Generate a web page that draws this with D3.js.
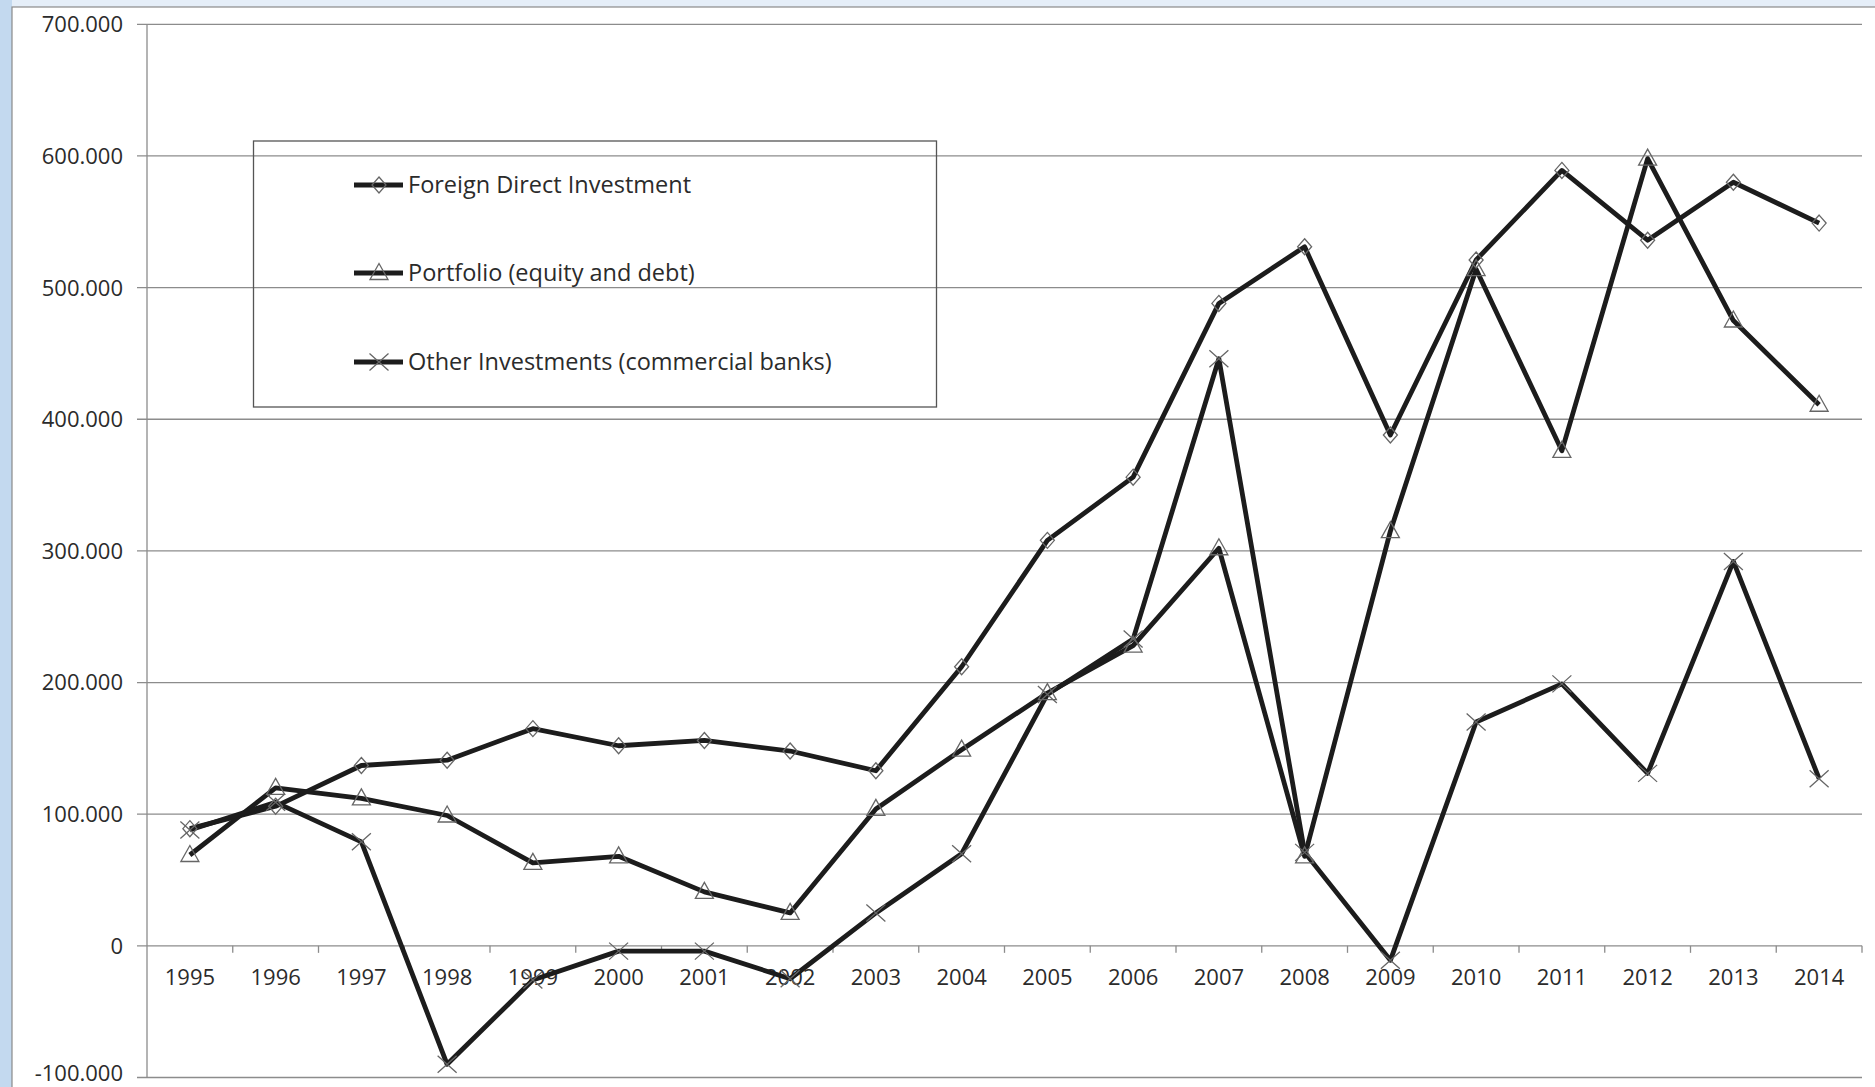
<!DOCTYPE html>
<html>
<head>
  <meta charset="utf-8">
  <title>Capital flows by type, 1995-2014</title>
  <style>
    body { margin: 0; background: #ffffff; }
    text { font-family: "Open Sans", sans-serif; fill: #2b2b2b; }
  </style>
</head>
<body>
  <script src="https://cdn.jsdelivr.net/npm/d3@7/dist/d3.min.js"></script>
  <script>
    // categories and values (thousands)
    const years = ["1995","1996","1997","1998","1999","2000","2001","2002","2003","2004",
                   "2005","2006","2007","2008","2009","2010","2011","2012","2013","2014"];
    const fdi       = [89, 106, 137, 141, 165, 152, 156, 148, 133, 212, 308, 356, 488, 531, 388, 521, 589, 536, 580, 549];
    const portfolio = [69, 120, 112, 99, 63, 68, 41, 25, 104, 149, 192, 228, 302, 68, 315, 514, 376, 598, 475, 411];
    const other     = [88, 109, 79, -90, -26, -4, -4, -25, 25, 70, 191, 233, 446, 71, -11, 170, 199, 131, 292, 127];
    const seriesNames = ["Foreign Direct Investment", "Portfolio (equity and debt)", "Other Investments (commercial banks)"];
    const yTicks = [-100, 0, 100, 200, 300, 400, 500, 600, 700];

    const W = 1875, H = 1087;
    const plot = {left: 147, right: 1862, top: 24.3, bottom: 1077.5};

    const x = d3.scaleBand().domain(years).range([plot.left, plot.right]).padding(0);
    const y = d3.scaleLinear().domain([-100, 700]).range([plot.bottom, plot.top]);

    const svg = d3.select("body").append("svg")
        .attr("width", W).attr("height", H);

    // window-ish background
    svg.append("rect").attr("width", W).attr("height", H).attr("fill", "#e5eef8");
    svg.append("rect").attr("width", 12).attr("height", H).attr("fill", "#c3d9ef");
    svg.append("rect").attr("x", 12).attr("y", 7).attr("width", W - 11).attr("height", H)
       .attr("fill", "#ffffff").attr("stroke", "#8a8a8a").attr("stroke-width", 1.2);

    // gridlines
    svg.append("g").selectAll("line").data(yTicks).enter().append("line")
       .attr("x1", plot.left - 10).attr("x2", plot.right)
       .attr("y1", d => y(d)).attr("y2", d => y(d))
       .attr("stroke", "#8c8c8c").attr("stroke-width", 1.3);

    // y axis
    svg.append("line")
       .attr("x1", plot.left).attr("x2", plot.left)
       .attr("y1", y(700)).attr("y2", y(-100))
       .attr("stroke", "#8c8c8c").attr("stroke-width", 1.3);

    // y labels (thousands written with ".000"); bottom one nudged to stay inside the page
    svg.append("g").selectAll("text").data(yTicks).enter().append("text")
       .attr("x", 123).attr("y", d => Math.min(y(d), H - 14)).attr("dy", "0.36em")
       .attr("text-anchor", "end").attr("font-size", "22px")
       .text(d => d === 0 ? "0" : d + ".000");

    // x axis on zero line
    const xAxis = d3.axisBottom(x).tickSize(0).tickSizeOuter(0);
    const gx = svg.append("g").attr("transform", "translate(0," + y(0) + ")").call(xAxis);
    gx.select(".domain").remove();
    gx.selectAll("text").attr("font-size", "22px").attr("font-family", "Open Sans")
      .attr("fill", "#2b2b2b").attr("dy", "0").attr("y", 39);

    const bounds = years.map(d => x(d)).concat([plot.right]);
    svg.append("g").selectAll("line").data(bounds.slice(1)).enter().append("line")
       .attr("x1", d => d).attr("x2", d => d)
       .attr("y1", y(0)).attr("y2", y(0) + 7)
       .attr("stroke", "#8c8c8c").attr("stroke-width", 1.3);

    // series
    const cx = (d, i) => x(years[i]) + x.bandwidth() / 2;
    const line = d3.line().x(cx).y(d => y(d));
    const allSeries = [fdi, portfolio, other];
    const shapes = ["diamond", "triangle", "cross"];

    function drawMarker(g, shape, px, py) {
      if (shape === "diamond") {
        g.append("path").attr("d", `M${px},${py - 8}L${px + 7},${py}L${px},${py + 8}L${px - 7},${py}Z`)
         .attr("fill", "none").attr("stroke", "#666").attr("stroke-width", 1.3);
      } else if (shape === "triangle") {
        g.append("path").attr("d", `M${px},${py - 9.5}L${px + 9},${py + 6.5}L${px - 9},${py + 6.5}Z`)
         .attr("fill", "none").attr("stroke", "#666").attr("stroke-width", 1.3);
      } else {
        g.append("path").attr("d", `M${px - 9.5},${py - 8.5}L${px + 9.5},${py + 8.5}M${px + 9.5},${py - 8.5}L${px - 9.5},${py + 8.5}`)
         .attr("fill", "none").attr("stroke", "#666").attr("stroke-width", 1.3);
      }
    }

    allSeries.forEach((s, k) => {
      svg.append("path").datum(s).attr("d", line)
         .attr("fill", "none").attr("stroke", "#1c1c1c").attr("stroke-width", 4.8)
         .attr("stroke-linejoin", "round");
    });
    allSeries.forEach((s, k) => {
      const g = svg.append("g");
      s.forEach((v, i) => drawMarker(g, shapes[k], cx(v, i), y(v)));
    });

    // legend
    svg.append("rect").attr("x", 253.5).attr("y", 141).attr("width", 683).attr("height", 266)
       .attr("fill", "none").attr("stroke", "#555").attr("stroke-width", 1.3);
    const rowsY = [185, 273, 362];
    seriesNames.forEach((name, k) => {
      const g = svg.append("g");
      g.append("line").attr("x1", 354).attr("x2", 403).attr("y1", rowsY[k]).attr("y2", rowsY[k])
       .attr("stroke", "#1c1c1c").attr("stroke-width", 4.8);
      drawMarker(g, shapes[k], 379, rowsY[k]);
      g.append("text").attr("x", 408).attr("y", rowsY[k]).attr("dy", "0.36em")
       .attr("font-size", "23.5px").text(name);
    });
  </script>
</body>
</html>
